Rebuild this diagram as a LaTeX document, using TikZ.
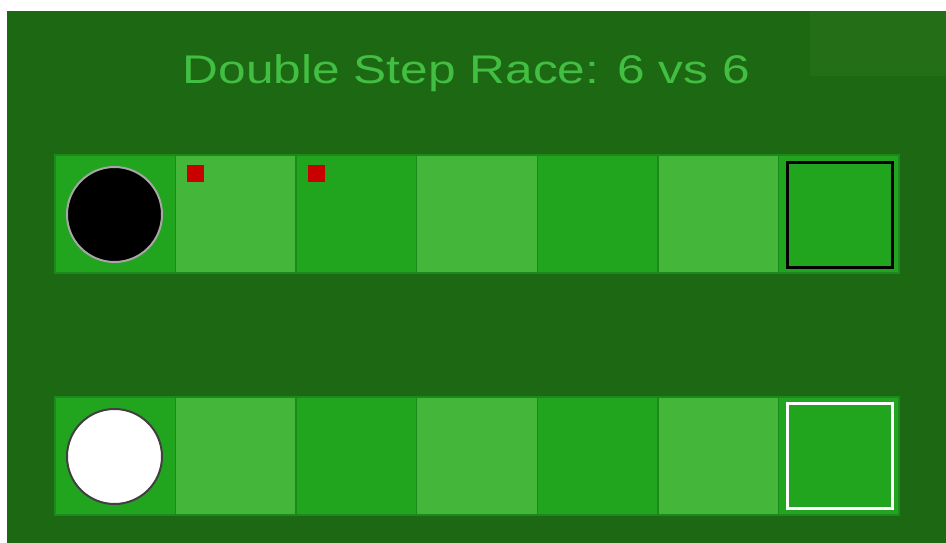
\documentclass[tikz,border=0pt]{standalone}
\usepackage{fontspec}
\setmainfont{Liberation Sans}
\usepackage{tikz}
\usetikzlibrary{positioning}
\definecolor{board}{RGB}{29,104,18}
\definecolor{boardpatch}{RGB}{35,110,22}
\definecolor{cellmid}{RGB}{33,165,31}
\definecolor{celllight}{RGB}{68,182,58}
\definecolor{cellline}{RGB}{28,138,26}
\definecolor{titlegreen}{RGB}{66,190,66}
\definecolor{markred}{RGB}{200,0,0}

\tikzset{
    titletext/.style={text=titlegreen, font=\fontsize{40}{48}\selectfont, xscale=1.24, anchor=base, inner sep=0pt},
    piece/.style={circle, minimum size=95pt, inner sep=0pt, line width=2pt},
    marker/.style={rectangle, fill=markred, minimum size=17pt, inner sep=0pt},
    goal/.style={rectangle, minimum size=105pt, inner sep=0pt, line width=3pt}
}

\begin{document}
\begin{tikzpicture}[x=1pt,y=-1pt]

    \useasboundingbox (0,0) rectangle (946,543);
    \fill[white] (0,0) rectangle (946,543);
    \fill[board] (7,11) rectangle (946,543);
    \fill[boardpatch] (810,11) rectangle (946,76);

    \node[titletext] (title) at (466.5,84) {Double Step Race: 6 vs 6};

    \foreach \y in {155,397}{
        \foreach \i/\c in {0/cellmid,1/celllight,2/cellmid,3/celllight,4/cellmid,5/celllight,6/cellmid}{
            \filldraw[fill=\c, draw=cellline, line width=1.5pt] ({55+120.57*\i},\y) rectangle ++(120.57,118);
        }
    }

    \node[piece, fill=black, draw=gray!70] (blackpiece) at (114.5,214.5) {};
    \node[piece, fill=white, draw=black!75] (whitepiece) at (114.5,456.5) {};

    \node[marker] (mark1) at (195,173.5) {};
    \node[marker] (mark2) at (316,173.5) {};

    \node[goal, draw=black] (blackgoal) at (840,215) {};
    \node[goal, draw=white] (whitegoal) at (840,456) {};

\end{tikzpicture}
\end{document}
